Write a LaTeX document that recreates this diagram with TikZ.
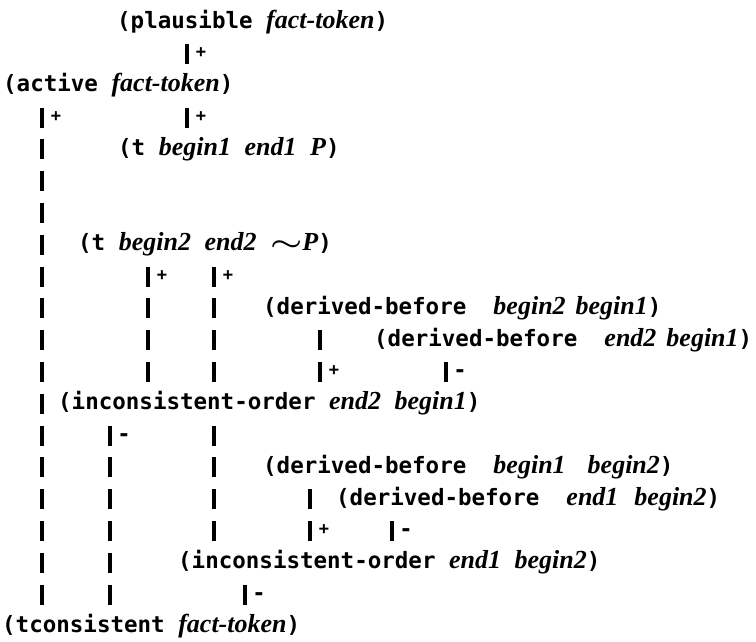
\documentclass[tikz,border=0pt]{standalone}
\usepackage{fontspec}
\newfontfamily\monob{DejaVu Sans Mono}
\newfontfamily\itf{Liberation Serif}
\usetikzlibrary{backgrounds}
\newcommand\iv[1]{{\fontsize{26}{26}\selectfont\itf\bfseries\itshape #1\/}}
\newcommand\tsim{{\fontsize{26}{26}\selectfont\boldmath\scalebox{1.45}[1]{$\sim$}}}
\newcommand\ms{\hspace{13.55pt}}
\tikzset{
  tx/.style={anchor=west, inner sep=0pt, text height=16pt, text depth=4pt,
    minimum height=31.8pt, fill=white,
    font=\fontsize{22.5}{24}\selectfont\monob\bfseries},
  bar/.style={line width=3.4pt, dash pattern=on 20pt off 11.8pt, dash phase=25.9pt},
  sgnp/.style={inner sep=0pt, xshift=14pt, yshift=1pt, font=\fontsize{17}{17}\selectfont\monob\bfseries},
  sgnm/.style={inner sep=0pt, xshift=14pt, yshift=-2pt, font=\fontsize{22}{22}\selectfont\monob\bfseries}
}
\begin{document}
\begin{tikzpicture}[x=1pt, y=-1pt]
\useasboundingbox (0,0) rectangle (756,641);
% column positions
\coordinate (xA) at (42,0);
\coordinate (xP) at (187,0);
\coordinate (xB1) at (148,0);
\coordinate (xC) at (214,0);
\coordinate (xD) at (320,0);
\coordinate (xE) at (446,0);
\coordinate (xB2) at (110,0);
\coordinate (xF) at (310,0);
\coordinate (xG) at (392,0);
\coordinate (xH) at (245,0);
% statements (row k at y = 22 + 31.8k)
\node[tx] (plaus)  at (117,22)    {(plausible \iv{fact-token})};
\node[tx] (active) at (3,85.6)    {(active \iv{fact-token})};
\node[tx] (tb1)    at (118,149.2) {(t \iv{begin1\ms end1\ms P})};
\node[tx] (tb2)    at (78,244.6)  {(t \iv{begin2\ms end2} \tsim\iv{P})};
\node[tx] (db21)   at (263,308.2) {(derived-before\ \ \iv{begin2\hspace{10pt}begin1})};
\node[tx] (de21)   at (374,340)   {(derived-before\ \ \iv{end2\hspace{10pt}begin1})};
\node[tx] (inc1)   at (58,403.6)  {(inconsistent-order \iv{end2\ms begin1})};
\node[tx] (db12)   at (263,467.2) {(derived-before\ \ \iv{begin1\hspace{22pt}begin2})};
\node[tx] (de12)   at (336,499)   {(derived-before\ \ \iv{end1\hspace{16pt}begin2})};
\node[tx] (inc2)   at (178,562.6) {(inconsistent-order \iv{end1\ms begin2})};
\node[tx] (tcons)  at (2,626.2)   {(tconsistent \iv{fact-token})};
% connectors
\begin{pgfonlayer}{background}
\draw[bar] (plaus.south -| xP) -- (active.north -| xP) node[sgnp, pos=0.5] (s01) {+};
\draw[bar] (active.south -| xA) -- (tcons.north -| xA) node[sgnp, pos=0.03125] (sA) {+};
\draw[bar] (active.south -| xP) -- (tb1.north -| xP) node[sgnp, pos=0.5] (s1b1) {+};
\draw[bar] (tb2.south -| xB1) -- (inc1.north -| xB1) node[sgnp, pos=0.125] (sB1) {+};
\draw[bar] (tb2.south -| xC) -- (inc2.north -| xC) node[sgnp, pos=0.0556] (sC) {+};
\draw[bar] (db21.south -| xD) -- (inc1.north -| xD) node[sgnp, pos=0.75] (sD) {+};
\draw[bar] (de21.south -| xE) -- (inc1.north -| xE) node[sgnm, pos=0.5] (sE) {-};
\draw[bar] (inc1.south -| xB2) -- (tcons.north -| xB2) node[sgnm, pos=0.0833] (sB2) {-};
\draw[bar] (db12.south -| xF) -- (inc2.north -| xF) node[sgnp, pos=0.75] (sF) {+};
\draw[bar] (de12.south -| xG) -- (inc2.north -| xG) node[sgnm, pos=0.5] (sG) {-};
\draw[bar] (inc2.south -| xH) -- (tcons.north -| xH) node[sgnm, pos=0.5] (sH) {-};
\end{pgfonlayer}
\end{tikzpicture}
\end{document}
